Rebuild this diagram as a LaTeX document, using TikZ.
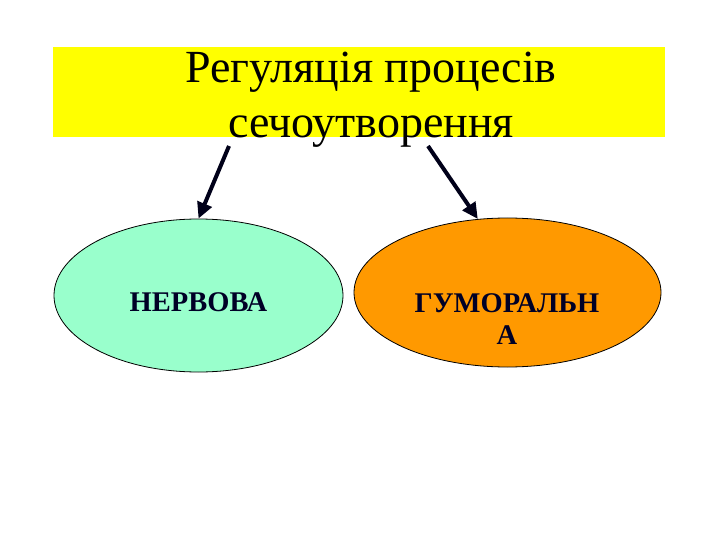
\documentclass[tikz,border=0pt]{standalone}
\usepackage{fontspec}
\setmainfont{Liberation Serif}
\usetikzlibrary{shapes.geometric,arrows.meta}
\definecolor{titleyellow}{HTML}{FFFF00}
\definecolor{aqua}{HTML}{99FFCC}
\definecolor{orangefill}{HTML}{FF9900}
\tikzset{
  oval/.style={ellipse, draw=black, line width=0.8pt, inner sep=0pt},
  ovaltext/.style={align=center, inner sep=0pt, anchor=base,
    font=\fontsize{28.5}{32}\selectfont\bfseries, text=black!85!blue},
  arr/.style={line width=4pt, -{Triangle[length=16pt,width=15pt]}, black!90!blue},
}
\begin{document}
\begin{tikzpicture}[x=1pt,y=-1pt]
\useasboundingbox (0,0) rectangle (720,540);
\fill[white] (0,0) rectangle (720,540);
\fill[titleyellow] (53,47) rectangle (665,137);
\node[font=\fontsize{46}{55}\selectfont, align=center, inner sep=0pt, anchor=base] (title) at (371,138)
  {Регуляція процесів\\сечоутворення};
\node[oval, fill=aqua, minimum width=289pt, minimum height=153pt] (nerv) at (198.5,295.5) {};
\node[oval, fill=orangefill, minimum width=307pt, minimum height=149pt] (hum) at (507.5,292.5) {};
\node[ovaltext] (nervtext) at (198.5,311.7) {НЕРВОВА};
\node[ovaltext] (humtext) at (507,344) {ГУМОРАЛЬН\\А};
\coordinate (s1) at (229,146);
\coordinate (s2) at (428,146);
\draw[arr] (s1) -- (nerv.north);
\draw[arr] (s2) -- (hum.112);
\end{tikzpicture}
\end{document}
